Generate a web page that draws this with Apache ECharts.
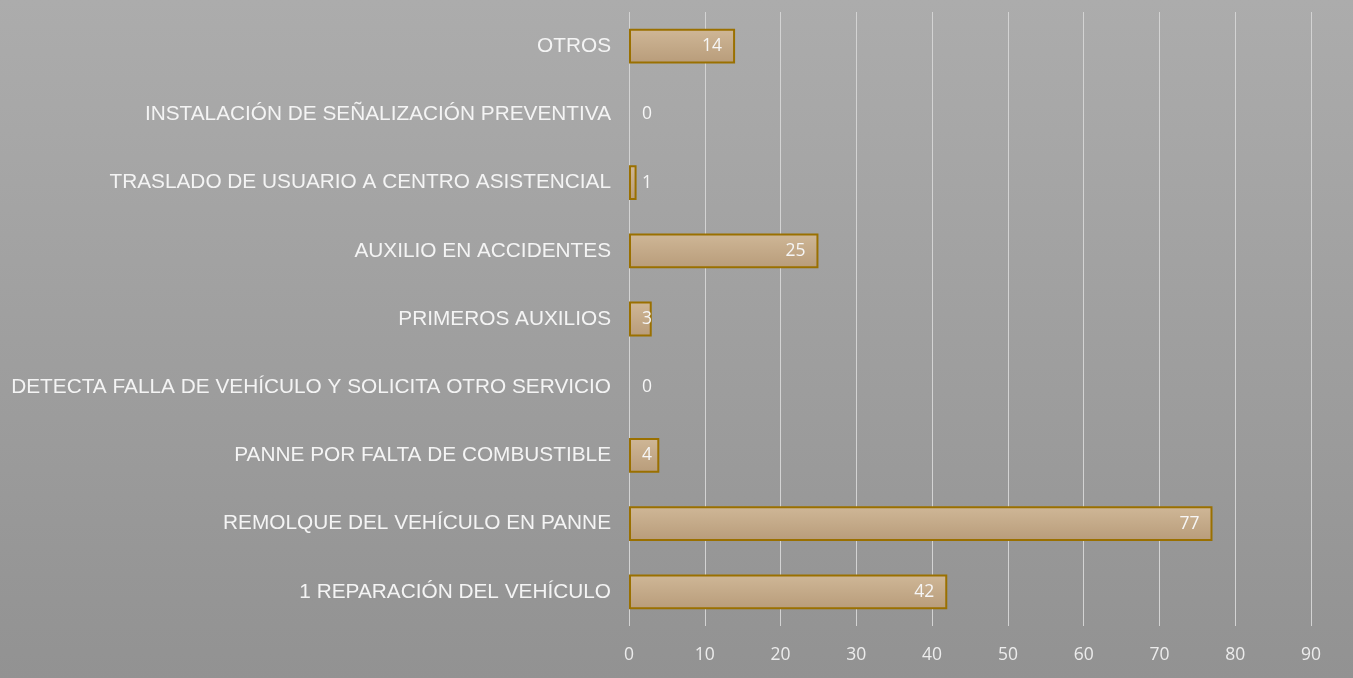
<!DOCTYPE html>
<html>
<head>
<meta charset="utf-8">
<script src="https://cdn.jsdelivr.net/npm/echarts@6/dist/echarts.min.js"></script>
<style>
  html, body { margin: 0; padding: 0; }
  #chart { width: 1353px; height: 678px; }
</style>
</head>
<body>
<div id="chart"></div>
<script>
// categories from bottom to top (as drawn on the y axis)
let categories = [
    '1 REPARACIÓN DEL VEHÍCULO',
    'REMOLQUE DEL VEHÍCULO EN PANNE',
    'PANNE POR FALTA DE COMBUSTIBLE',
    'DETECTA FALLA DE VEHÍCULO Y SOLICITA OTRO SERVICIO',
    'PRIMEROS AUXILIOS',
    'AUXILIO EN ACCIDENTES',
    'TRASLADO DE USUARIO A CENTRO ASISTENCIAL',
    'INSTALACIÓN DE SEÑALIZACIÓN PREVENTIVA',
    'OTROS'
];
let values = [42, 77, 4, 0, 3, 25, 1, 0, 14];

let chart = echarts.init(document.getElementById('chart'));

let option = {
    backgroundColor: {
        type: 'linear', x: 0, y: 0, x2: 0, y2: 1,
        colorStops: [
            { offset: 0, color: '#acacac' },
            { offset: 1, color: '#929292' }
        ]
    },
    grid: {
        left: 629,
        right: 42,
        top: 12,
        bottom: 52
    },
    xAxis: {
        type: 'value',
        min: 0,
        max: 90,
        interval: 10,
        axisLine: { show: false },
        axisTick: { show: false },
        splitLine: {
            lineStyle: { color: '#d3d3d3', width: 1 }
        },
        axisLabel: {
            color: '#ececec',
            fontFamily: 'Open Sans',
            fontSize: 17.5,
            margin: 20
        }
    },
    yAxis: {
        type: 'category',
        data: categories,
        axisLine: { show: false },
        axisTick: { show: false },
        axisLabel: {
            color: '#f4f4f4',
            fontFamily: 'Liberation Sans',
            fontSize: 20.8,
            margin: 18
        }
    },
    series: [{
        type: 'bar',
        barWidth: '51%',
        data: values.map(function (v) {
            return {
                value: v,
                // empty bars get no outline
                itemStyle: v === 0 ? { borderWidth: 0 } : {},
                // small bars: label sits just past the axis like Excel does
                label: v < 5 ? { position: 'insideLeft', distance: 13 } : {}
            };
        }),
        itemStyle: {
            color: {
                type: 'linear', x: 0, y: 0, x2: 0, y2: 1,
                colorStops: [
                    { offset: 0, color: '#cfb797' },
                    { offset: 1, color: '#b89c7a' }
                ]
            },
            borderColor: '#9a7000',
            borderWidth: 2
        },
        label: {
            show: true,
            position: 'insideRight',
            distance: 13,
            color: '#f6f6f6',
            fontFamily: 'Open Sans',
            fontSize: 17.5
        }
    }]
};

chart.setOption(option);
</script>
</body>
</html>
